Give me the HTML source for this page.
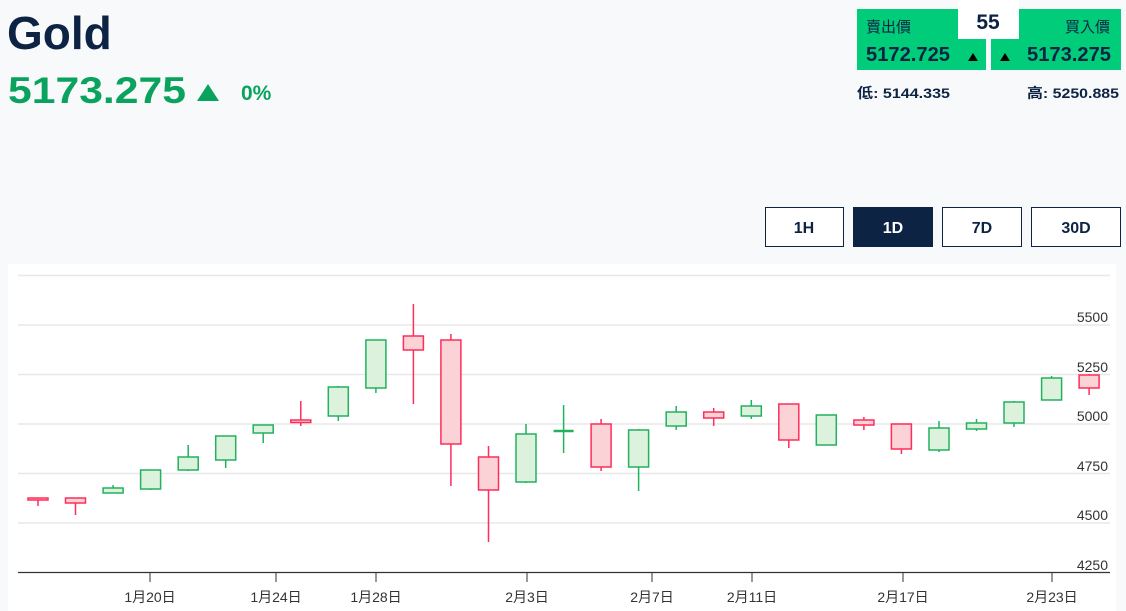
<!DOCTYPE html>
<html><head><meta charset="utf-8"><style>
html,body{margin:0;padding:0;background:#f8f9fb;width:1126px;height:611px;overflow:hidden}
svg{display:block}
text{font-family:"Liberation Sans","Noto Sans CJK TC",sans-serif}
</style></head><body>
<svg width="1126" height="611" xmlns="http://www.w3.org/2000/svg">
<rect width="1126" height="611" fill="#f8f9fb"/>
<text x="7" y="49" font-size="46" font-weight="bold" fill="#0d2344">Gold</text>
<text x="8" y="103" font-size="37" font-weight="bold" fill="#0aa35e" textLength="178" lengthAdjust="spacingAndGlyphs">5173.275</text>
<polygon points="197,101 208,84 219,101" fill="#0aa35e"/>
<text x="241" y="100" font-size="21" font-weight="bold" fill="#0aa35e">0%</text>
<rect x="857" y="9" width="129" height="61" fill="#00cc7a"/>
<rect x="991" y="9" width="130" height="61" fill="#00cc7a"/>
<rect x="958" y="0" width="61" height="39" fill="#ffffff"/>
<text x="988" y="29" font-size="21" font-weight="bold" fill="#0d2344" text-anchor="middle">55</text>
<text x="866" y="32" font-size="15" fill="#0d2344">賣出價</text>
<text x="1110" y="32" font-size="15" fill="#0d2344" text-anchor="end">買入價</text>
<text x="866" y="61" font-size="20" font-weight="bold" fill="#0d2344" textLength="84" lengthAdjust="spacingAndGlyphs">5172.725</text>
<polygon points="968,61 973,53 978,61" fill="#000"/>
<polygon points="1000,61 1005,53 1010,61" fill="#000"/>
<text x="1027" y="61" font-size="20" font-weight="bold" fill="#0d2344" textLength="84" lengthAdjust="spacingAndGlyphs">5173.275</text>
<text x="857" y="98" font-size="14" font-weight="bold" fill="#0d2344" textLength="93" lengthAdjust="spacingAndGlyphs">低: 5144.335</text>
<text x="1027" y="98" font-size="14" font-weight="bold" fill="#0d2344" textLength="92" lengthAdjust="spacingAndGlyphs">高: 5250.885</text>
<g font-size="16" font-weight="bold" text-anchor="middle">
<rect x="765.5" y="207.5" width="78" height="39" fill="#fff" stroke="#0d2344"/><text x="804" y="233" fill="#0d2344">1H</text>
<rect x="853.5" y="207.5" width="79" height="39" fill="#0d2344" stroke="#0d2344"/><text x="893" y="233" fill="#fff">1D</text>
<rect x="942.5" y="207.5" width="79" height="39" fill="#fff" stroke="#0d2344"/><text x="982" y="233" fill="#0d2344">7D</text>
<rect x="1031.5" y="207.5" width="89" height="39" fill="#fff" stroke="#0d2344"/><text x="1076" y="233" fill="#0d2344">30D</text>
</g>
<rect x="8" y="264" width="1108" height="347" fill="#fff"/>
<g stroke="#e8e8e8" stroke-width="1.5">
<line x1="18" x2="1110" y1="275.5" y2="275.5"/><line x1="18" x2="1110" y1="325" y2="325"/>
<line x1="18" x2="1110" y1="374.5" y2="374.5"/><line x1="18" x2="1110" y1="424" y2="424"/>
<line x1="18" x2="1110" y1="473.5" y2="473.5"/><line x1="18" x2="1110" y1="523" y2="523"/>
</g>
<line x1="18" x2="1110" y1="572.5" y2="572.5" stroke="#333" stroke-width="1.2"/>
<g font-size="14" fill="#333" text-anchor="end">
<text x="1108" y="322">5500</text><text x="1108" y="372">5250</text><text x="1108" y="421">5000</text>
<text x="1108" y="471">4750</text><text x="1108" y="520">4500</text><text x="1108" y="570">4250</text>
</g>
<g stroke="#555" stroke-width="1.2">
<line x1="150" x2="150" y1="573" y2="582"/><line x1="276" x2="276" y1="573" y2="582"/>
<line x1="376" x2="376" y1="573" y2="582"/><line x1="527" x2="527" y1="573" y2="582"/>
<line x1="652" x2="652" y1="573" y2="582"/><line x1="752" x2="752" y1="573" y2="582"/>
<line x1="903" x2="903" y1="573" y2="582"/><line x1="1052" x2="1052" y1="573" y2="582"/>
</g>
<g font-size="14" fill="#333" text-anchor="middle">
<text x="150" y="602">1月20日</text><text x="276" y="602">1月24日</text><text x="376" y="602">1月28日</text>
<text x="527" y="602">2月3日</text><text x="652" y="602">2月7日</text><text x="752" y="602">2月11日</text>
<text x="903" y="602">2月17日</text><text x="1052" y="602">2月23日</text>
</g>
<g stroke-width="1.5" stroke="#ff2d5a" fill="#fbd3d6">
<line x1="38" x2="38" y1="498" y2="506"/><rect x="28" y="498" width="20" height="2"/>
<line x1="75.5" x2="75.5" y1="498" y2="515"/><rect x="65.5" y="498" width="20" height="5"/>
<line x1="300.8" x2="300.8" y1="401" y2="426"/><rect x="290.8" y="420" width="20" height="2.5"/>
<line x1="413.4" x2="413.4" y1="304" y2="404"/><rect x="403.4" y="336" width="20" height="14"/>
<line x1="450.9" x2="450.9" y1="334" y2="486"/><rect x="440.9" y="340" width="20" height="104"/>
<line x1="488.5" x2="488.5" y1="446" y2="542"/><rect x="478.5" y="457" width="20" height="33"/>
<line x1="601.1" x2="601.1" y1="419" y2="471"/><rect x="591.1" y="424" width="20" height="43"/>
<line x1="713.7" x2="713.7" y1="408" y2="426"/><rect x="703.7" y="412" width="20" height="6"/>
<line x1="788.8" x2="788.8" y1="404" y2="448"/><rect x="778.8" y="404" width="20" height="36"/>
<line x1="863.9" x2="863.9" y1="417" y2="430"/><rect x="853.9" y="420" width="20" height="5"/>
<line x1="901.4" x2="901.4" y1="424" y2="454"/><rect x="891.4" y="424" width="20" height="25"/>
<line x1="1089.1" x2="1089.1" y1="374" y2="395"/><rect x="1079.1" y="375" width="20" height="13"/>
</g>
<g stroke-width="1.5" stroke="#21b15f" fill="#dcf2dc">
<line x1="113.1" x2="113.1" y1="485" y2="493"/><rect x="103.1" y="488" width="20" height="5"/>
<line x1="150.6" x2="150.6" y1="470" y2="490"/><rect x="140.6" y="470" width="20" height="19"/>
<line x1="188.2" x2="188.2" y1="445" y2="471"/><rect x="178.2" y="457" width="20" height="13"/>
<line x1="225.7" x2="225.7" y1="436" y2="468"/><rect x="215.7" y="436" width="20" height="24"/>
<line x1="263.2" x2="263.2" y1="425" y2="443"/><rect x="253.2" y="425" width="20" height="8"/>
<line x1="338.3" x2="338.3" y1="386" y2="421"/><rect x="328.3" y="387" width="20" height="29"/>
<line x1="375.9" x2="375.9" y1="340" y2="393"/><rect x="365.9" y="340" width="20" height="48"/>
<line x1="526" x2="526" y1="424" y2="483"/><rect x="516" y="434" width="20" height="48"/>
<line x1="563.6" x2="563.6" y1="405" y2="453"/><line x1="553.6" x2="573.6" y1="431" y2="431" stroke-width="2.5"/>
<line x1="638.6" x2="638.6" y1="429" y2="491"/><rect x="628.6" y="430" width="20" height="37"/>
<line x1="676.2" x2="676.2" y1="406" y2="430"/><rect x="666.2" y="412" width="20" height="14"/>
<line x1="751.3" x2="751.3" y1="400" y2="419"/><rect x="741.3" y="406" width="20" height="10"/>
<line x1="826.3" x2="826.3" y1="415" y2="445"/><rect x="816.3" y="415" width="20" height="30"/>
<line x1="939" x2="939" y1="421" y2="452"/><rect x="929" y="428" width="20" height="22"/>
<line x1="976.5" x2="976.5" y1="419" y2="431"/><rect x="966.5" y="423" width="20" height="6"/>
<line x1="1014" x2="1014" y1="401" y2="427"/><rect x="1004" y="402" width="20" height="21"/>
<line x1="1051.6" x2="1051.6" y1="376" y2="400"/><rect x="1041.6" y="378" width="20" height="22"/>
</g>
</svg>
</body></html>
